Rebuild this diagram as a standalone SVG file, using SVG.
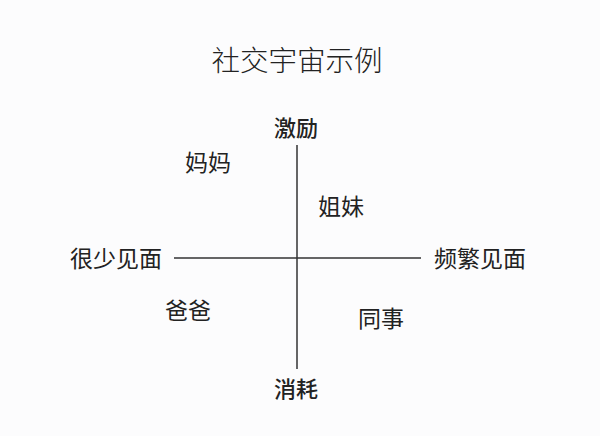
<svg xmlns="http://www.w3.org/2000/svg" width="600" height="436" viewBox="0 0 600 436">
<style>
text{font-family:"Noto Sans CJK SC","Noto Sans",sans-serif;fill:#222;}
.t{font-size:28.5px;font-weight:300;}
.a{font-size:22px;font-weight:500;}
.l{font-size:23px;font-weight:400;}
.axis{stroke:#333;stroke-width:1.5;fill:none;}
</style>
<rect width="600" height="436" fill="#fcfcfd"/>
<text class="t" x="297" y="71" text-anchor="middle">社交宇宙示例</text>
<g id="connectors">
<line class="axis" x1="297" y1="145" x2="297" y2="369"/>
<line class="axis" x1="174" y1="258" x2="421" y2="258"/>
</g>
<g id="top"><text class="a" x="296" y="136" text-anchor="middle">激励</text></g>
<g id="bottom"><text class="a" x="296" y="397" text-anchor="middle">消耗</text></g>
<g id="left"><text class="l" x="116" y="267" text-anchor="middle">很少见面</text></g>
<g id="right"><text class="l" x="480" y="267" text-anchor="middle">频繁见面</text></g>
<g id="mama"><text class="l" x="208" y="171" text-anchor="middle">妈妈</text></g>
<g id="jiemei"><text class="l" x="341" y="215" text-anchor="middle">姐妹</text></g>
<g id="baba"><text class="l" x="188" y="319" text-anchor="middle">爸爸</text></g>
<g id="tongshi"><text class="l" x="381" y="327" text-anchor="middle">同事</text></g>
</svg>
